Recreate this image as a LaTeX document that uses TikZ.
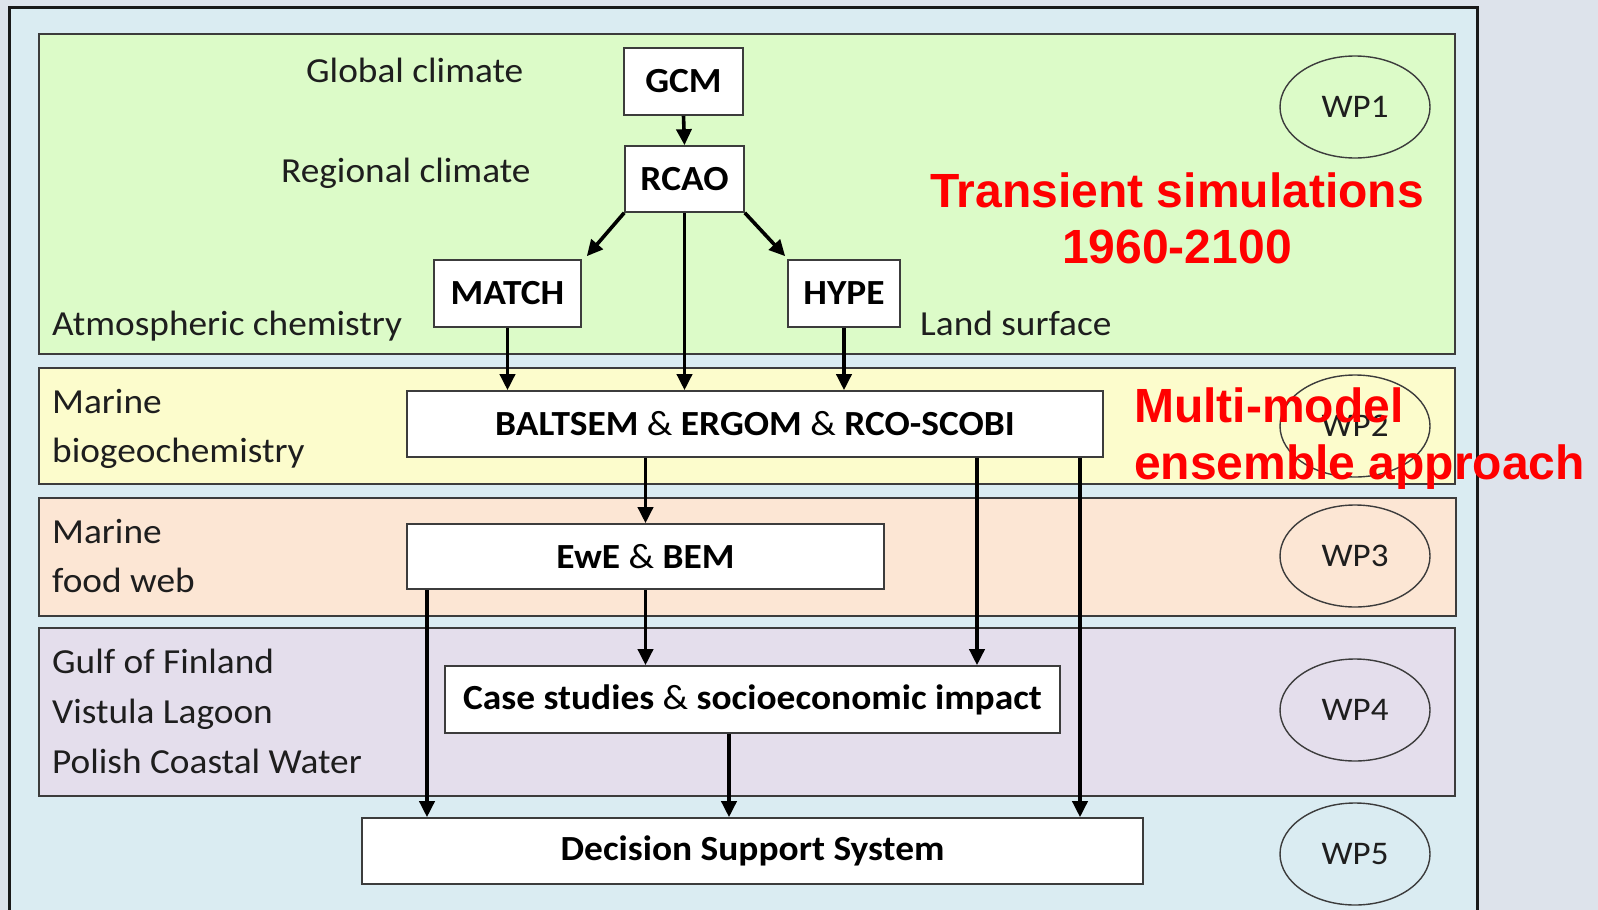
\documentclass[tikz,border=0pt]{standalone}
\usepackage{fontspec}
\setmainfont{Carlito}[FakeStretch=1.06]
\newfontfamily\redfont{Liberation Sans}
\usetikzlibrary{arrows.meta,calc,shapes.geometric}
\definecolor{pagebg}{RGB}{221,227,235}
\definecolor{framebg}{RGB}{218,236,242}
\definecolor{greenbg}{RGB}{220,251,200}
\definecolor{yellowbg}{RGB}{252,252,204}
\definecolor{peachbg}{RGB}{252,230,212}
\definecolor{lilacbg}{RGB}{228,222,236}
\definecolor{edgegray}{RGB}{60,60,60}
\definecolor{txt}{RGB}{30,30,30}
\definecolor{redtxt}{RGB}{255,0,0}
\tikzset{
  band/.style={draw=edgegray,line width=1.6pt},
  model/.style={draw=edgegray,line width=1.6pt,fill=white,inner sep=0pt,
    font=\fontsize{35.3}{40}\selectfont,text=black},
  lbl/.style={anchor=base west,inner sep=0pt,font=\fontsize{35.2}{40}\selectfont,text=txt},
  wp/.style={draw=edgegray,line width=1.4pt,ellipse,minimum width=150pt,minimum height=102pt,
    inner sep=0pt,font=\fontsize{33}{40}\selectfont,text=txt},
  flow/.style={draw=black,line width=3.6pt,-{Triangle[length=16pt,width=15pt]}},
  redlbl/.style={inner sep=0pt,text=redtxt,font=\redfont\bfseries\fontsize{48}{56}\selectfont}
}
\begin{document}
\begin{tikzpicture}[x=1pt,y=-1pt]
\useasboundingbox (0,0) rectangle (1598,910);
\fill[pagebg] (0,0) rectangle (1598,910);
\draw[fill=framebg,line width=3pt,draw=black!90] (9,7) rectangle (1477,925);
% bands
\draw[band,fill=greenbg] (39,34) rectangle (1455,354);
\draw[band,fill=yellowbg] (39,368) rectangle (1455,484);
\draw[band,fill=peachbg] (39,498) rectangle (1456,616);
\draw[band,fill=lilacbg] (39,628) rectangle (1455,796);
% WP ellipses
\node[wp] (wp1) at (1355,107) {WP1};
\node[wp] (wp2) at (1355,426) {WP2};
\node[wp] (wp3) at (1355,556) {WP3};
\node[wp] (wp4) at (1355,710) {WP4};
\node[wp] (wp5) at (1355,854) {WP5};
% left labels
\node[lbl] (l1) at (306,82) {Global climate};
\node[lbl] (l2) at (281,182) {Regional climate};
\node[lbl] (l3) at (52,335) {Atmospheric chemistry};
\node[lbl] (l4) at (920,335) {Land surface};
\node[lbl] (l5) at (52,413) {Marine};
\node[lbl] (l6) at (52,462) {biogeochemistry};
\node[lbl] (l7) at (52,543) {Marine};
\node[lbl] (l8) at (52,592) {food web};
\node[lbl] (l9) at (52,673) {Gulf of Finland};
\node[lbl] (l10) at (52,723) {Vistula Lagoon};
\node[lbl] (l11) at (52,773) {Polish Coastal Water};
% model boxes
\node[model,minimum width=119pt,minimum height=67pt] (gcm) at (683.5,81.5) {\bfseries GCM};
\node[model,minimum width=119pt,minimum height=66pt] (rcao) at (684.5,179) {\bfseries RCAO};
\node[model,minimum width=147pt,minimum height=67pt] (match) at (507.5,293.5) {\bfseries MATCH};
\node[model,minimum width=112pt,minimum height=67pt] (hype) at (844,293.5) {\bfseries HYPE};
\node[model,minimum width=696pt,minimum height=66pt] (balt) at (755,424) {{\bfseries BALTSEM} \& {\bfseries ERGOM} \& {\bfseries RCO-SCOBI}};
\node[model,minimum width=477pt,minimum height=65pt] (ewe) at (645.5,556.5) {{\bfseries EwE} \& {\bfseries BEM}};
\node[model,minimum width=615pt,minimum height=67pt] (case) at (752.5,699.5) {{\bfseries Case studies} \& {\bfseries socioeconomic impact}};
\node[model,minimum width=781pt,minimum height=66pt] (dss) at (752.5,851) {\bfseries Decision Support System};
% connectors
\coordinate (xa) at (977,0);
\coordinate (xb) at (1080,0);
\coordinate (xc) at (427,0);
\coordinate (xd) at (729,0);
\draw[flow] (gcm.south) -- (rcao.north);
\draw[flow] (rcao.south west) -- ($(match.north east)+(5,-3)$);
\draw[flow] (rcao.south east) -- ($(hype.north west)+(-2,-3)$);
\draw[flow] (rcao.south) -- (rcao.south |- balt.north);
\draw[flow] (match.south) -- (match.south |- balt.north);
\draw[flow] (hype.south) -- (hype.south |- balt.north);
\draw[flow] (balt.south -| ewe.north) -- (ewe.north);
\draw[flow] (balt.south -| xa) -- (case.north -| xa);
\draw[flow] (balt.south -| xb) -- (dss.north -| xb);
\draw[flow] (ewe.south) -- (case.north -| ewe.south);
\draw[flow] (ewe.south -| xc) -- (dss.north -| xc);
\draw[flow] (case.south -| xd) -- (dss.north -| xd);
% red labels
\node[redlbl,anchor=base] (r1) at (1177,207) {Transient simulations};
\node[redlbl,anchor=base] (r2) at (1177,263) {1960-2100};
\node[redlbl,anchor=base west] (r3) at (1134,422) {Multi-model};
\node[redlbl,anchor=base west] (r4) at (1134,479) {ensemble approach};
\end{tikzpicture}
\end{document}
